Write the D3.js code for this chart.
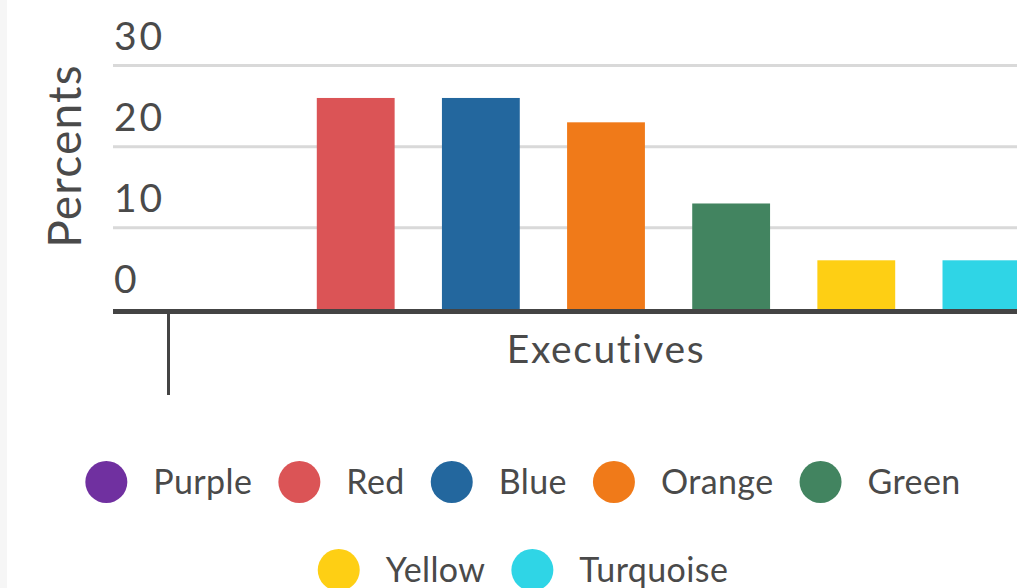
<!DOCTYPE html>
<html>
<head>
<meta charset="utf-8">
<script src="https://cdn.jsdelivr.net/npm/d3@7"></script>
<style>
  html, body { margin: 0; padding: 0; background: #fff; }
  svg { display: block; }
  text { font-family: "Lato", "Open Sans", sans-serif; fill: #4a4a4a; }
</style>
</head>
<body>
<svg id="chart" width="1017" height="588"></svg>
<script>
const categories = ["Executives"];
const seriesNames = ["Purple", "Red", "Blue", "Orange", "Green", "Yellow", "Turquoise"];
const seriesColors = ["#7030A0", "#DB5456", "#23679E", "#F07A19", "#428460", "#FECF14", "#2FD5E6"];
const seriesValues = [0, 26, 26, 23, 13, 6, 6];
const yTicks = [0, 10, 20, 30];

const svg = d3.select("#chart");
const W = 1017, H = 588;

svg.append("rect").attr("x", 0).attr("y", 0).attr("width", 7).attr("height", H).attr("fill", "#f6f6f6");

const plotLeft = 113;
const y = d3.scaleLinear().domain([0, 30]).range([309, 65.5]);
const x0 = d3.scaleBand().domain(categories).range([168, 1044]);
const x1 = d3.scaleBand().domain(seriesNames).range([0, x0.bandwidth()]).paddingInner(0.378).paddingOuter(0.189);

// gridlines
const grid = svg.append("g");
grid.selectAll("line").data(yTicks.filter(d => d > 0)).join("line")
  .attr("x1", plotLeft).attr("x2", W)
  .attr("y1", d => y(d)).attr("y2", d => y(d))
  .attr("stroke", "#d9d9d9").attr("stroke-width", 3);

// tick labels
svg.append("g").selectAll("text").data(yTicks).join("text")
  .attr("x", 114).attr("y", d => y(d) - 16)
  .attr("font-size", 39)
  .attr("letter-spacing", 3)
  .text(d => d);

// y title
svg.append("text")
  .attr("transform", "translate(81,156) rotate(-90)")
  .attr("text-anchor", "middle")
  .attr("font-size", 46)
  .attr("letter-spacing", 1.2)
  .text("Percents");

// bars
const groups = svg.append("g").selectAll("g").data(categories).join("g")
  .attr("transform", d => `translate(${x0(d)},0)`);
groups.selectAll("rect").data(seriesNames.map((s, i) => ({s, v: seriesValues[i], c: seriesColors[i]})))
  .join("rect")
  .attr("x", d => x1(d.s))
  .attr("width", x1.bandwidth())
  .attr("y", d => y(d.v))
  .attr("height", d => y(0) - y(d.v))
  .attr("fill", d => d.c);

// x axis line
svg.append("line").attr("x1", plotLeft).attr("x2", W)
  .attr("y1", 311.5).attr("y2", 311.5)
  .attr("stroke", "#444").attr("stroke-width", 5);

// category boundary ticks
svg.append("g").selectAll("line").data(categories).join("line")
  .attr("x1", d => x0(d) + 0.5).attr("x2", d => x0(d) + 0.5)
  .attr("y1", 312).attr("y2", 395)
  .attr("stroke", "#444").attr("stroke-width", 3);

// category label
svg.append("g").selectAll("text").data(categories).join("text")
  .attr("x", d => x0(d) + x0.bandwidth() / 2 - 0)
  .attr("y", 363)
  .attr("text-anchor", "middle")
  .attr("font-size", 39)
  .attr("letter-spacing", 1.6)
  .text(d => d);

// legend
const legendFont = 34;
const rows = [seriesNames.slice(0, 5), seriesNames.slice(5)];
const rowY = [482, 570];
const legendCenter = 523;
const r = 21, gap = 26;
const measure = svg.append("text").attr("font-size", legendFont).attr("letter-spacing", 0.4).attr("visibility", "hidden");
rows.forEach((row, ri) => {
  const widths = row.map(n => { measure.text(n); return measure.node().getComputedTextLength(); });
  const itemW = widths.map(w => 2 * r + gap + w);
  const total = d3.sum(itemW) + gap * (row.length - 1);
  let cx = legendCenter - total / 2;
  const g = svg.append("g");
  row.forEach((n, i) => {
    const idx = seriesNames.indexOf(n);
    g.append("circle").attr("cx", cx + r).attr("cy", rowY[ri]).attr("r", r).attr("fill", seriesColors[idx]);
    g.append("text").attr("x", cx + 2 * r + gap).attr("y", rowY[ri] + 11.5)
      .attr("font-size", legendFont).attr("letter-spacing", 0.4).text(n);
    cx += itemW[i] + gap;
  });
});
measure.remove();
</script>
</body>
</html>
